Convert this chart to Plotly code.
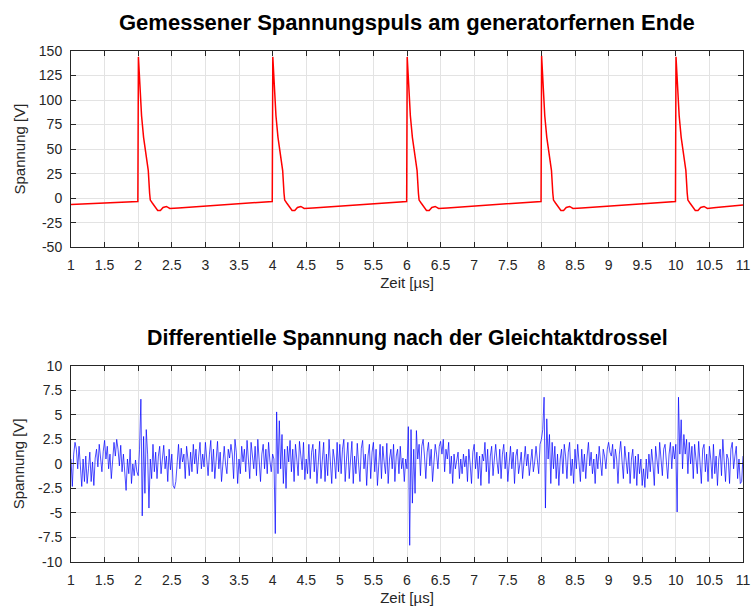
import plotly.graph_objects as go
from plotly.subplots import make_subplots

# ---- Top: measured voltage pulse (red) ----
t_puls = [
    1.00, 1.10, 1.20, 1.30, 1.40, 1.50, 1.60, 1.70, 1.80, 1.90, 1.995,
    2.003, 2.02, 2.05, 2.08, 2.10, 2.13, 2.15, 2.17, 2.18, 2.21, 2.25, 2.29, 2.33, 2.37, 2.42, 2.47,
    2.60, 2.80, 3.00, 3.20, 3.40, 3.60, 3.80, 3.995,
    4.003, 4.02, 4.05, 4.08, 4.10, 4.13, 4.15, 4.17, 4.18, 4.21, 4.25, 4.29, 4.33, 4.37, 4.42, 4.47,
    4.60, 4.80, 5.00, 5.20, 5.40, 5.60, 5.80, 5.995,
    6.003, 6.02, 6.05, 6.08, 6.10, 6.13, 6.15, 6.17, 6.18, 6.21, 6.25, 6.29, 6.33, 6.37, 6.42, 6.47,
    6.60, 6.80, 7.00, 7.20, 7.40, 7.60, 7.80, 7.995,
    8.003, 8.02, 8.05, 8.08, 8.10, 8.13, 8.15, 8.17, 8.18, 8.21, 8.25, 8.29, 8.33, 8.37, 8.42, 8.47,
    8.60, 8.80, 9.00, 9.20, 9.40, 9.60, 9.80, 9.995,
    10.003, 10.02, 10.05, 10.08, 10.10, 10.13, 10.15, 10.17, 10.18, 10.21, 10.25, 10.29, 10.33, 10.37, 10.42, 10.47,
    10.60, 10.80, 11.00,
]
v_puls = [
    -6.5, -6.2, -6.0, -5.6, -5.3, -5.0, -4.8, -4.5, -4.2, -3.8, -3.5,
    144, 118, 84, 62, 52, 42, 28, 5, -2, -5, -9, -12.5, -12.5, -9.5, -8.5, -10.5,
    -10.0, -9.0, -7.8, -6.8, -6.0, -5.0, -4.2, -3.4,
    144, 118, 84, 62, 52, 42, 28, 5, -2, -5, -9, -12.5, -12.5, -9.5, -8.5, -10.5,
    -10.0, -9.0, -7.8, -6.8, -6.0, -5.0, -4.2, -3.4,
    144, 118, 84, 62, 52, 42, 28, 5, -2, -5, -9, -12.5, -12.5, -9.5, -8.5, -10.5,
    -10.0, -9.0, -7.8, -6.8, -6.0, -5.0, -4.2, -3.4,
    145, 118, 84, 62, 52, 42, 28, 5, -2, -5, -9, -12.5, -12.5, -9.5, -8.5, -10.5,
    -10.0, -9.0, -7.8, -6.8, -6.0, -5.0, -4.2, -3.4,
    144, 118, 84, 62, 52, 42, 28, 5, -2, -5, -9, -12.5, -12.5, -9.5, -8.5, -10.5,
    -9.5, -8.0, -7.0,
]

# ---- Bottom: differential voltage (blue), sampled every 0.02 us from 1.00 us ----
t0_diff = 1.00
dt_diff = 0.02
v_diff = [
    0.5, -2.3, 1.0, 2.2, 1.5, -0.5, 1.8, -1.0, -2.3, 0.5, -1.8, 0.8, -2.0, -0.5, 1.2, -1.8, 0.2, -2.2, 0.6, 1.5, -0.3, 2.0, 0.8, -0.8, 1.3,
    2.4, 0.5, 1.8, -0.5, 1.0, -1.5, 0.3, 2.2, 0.8, 2.5, 1.5, -0.2, 1.9, -0.8, 1.0, -1.5, -2.7, 0.5, -1.0, 1.5, -2.0, 0.0, -1.2, 0.4, -0.8,
    -1.2, 1.5, 6.6, -5.3, 2.8, -3.0, 3.5, 1.0, -4.5, 0.5, -1.5, 2.0, -0.8, 1.2, -1.5, 0.8, 1.8, -1.0, 0.5, 1.9, -0.5, 0.8, -1.8, 1.5, -0.6,
    1.0, -2.2, -2.5, -1.8, 0.8, 2.0, -0.5, 1.6, 0.2, 1.0, -1.5, 1.8, 0.5, -1.2, 1.2, -0.8, 2.0, 0.0, 1.5, -1.0, 0.8, 2.2, -0.5, 1.0, -0.3,
    2.2, 0.5, -1.2, 1.0, 2.4, -0.8, 1.5, -1.5, 0.8, 2.3, -0.5, 1.2, -1.8, 0.5, 1.8, 0.0, -1.0, 1.5, 0.6, 2.0, 1.0, -1.5, 2.5, 1.2, -2.0,
    0.5, -1.0, 1.8, 0.2, 1.5, -0.8, 2.4, 0.5, -1.5, 2.2, 1.0, -0.5, 1.8, -1.2, 2.5, 0.8, -1.8, 1.0, 2.0, -0.5, 1.5, -1.0, 2.2, 0.3, -0.8,
    1.0, 0.5, -7.1, 5.3, -1.0, 4.4, -0.5, 3.0, -2.0, 1.5, -2.5, 1.8, 0.2, 2.4, -0.8, 1.5, -1.8, 2.0, 0.5, -1.2, 2.3, 1.0, -0.6, 2.2, -1.6,
    0.5, -1.0, 2.0, -1.5, 1.2, 2.0, -0.8, 1.5, -2.0, 0.8, 2.3, -1.5, 0.5, 2.2, -1.8, 1.0, -1.2, 2.5, 0.2, -2.0, 1.5, 0.5, -1.5, 2.2, -0.8,
    2.0, -1.0, 1.5, 2.5, -1.8, 0.5, 2.2, -1.5, 1.0, 2.3, -2.0, 0.8, -1.0, 2.1, 0.0, -1.8, 1.6, 2.4, -0.5, 1.0, -2.2, 0.8, 2.0, -1.5, 1.2,
    2.2, -0.8, 1.5, -2.2, 0.5, 2.0, -1.5, 1.8, 0.2, -1.0, 2.1, -2.0, 0.5, 1.5, -0.5, 2.0, -1.8, 0.8, 1.5, -1.0, 1.8, -0.5, 0.6, -1.8, 0.5,
    -0.5, 3.8, -8.3, 3.5, -4.0, 1.5, -3.0, 3.4, 0.5, 2.0, -1.2, 1.8, 2.5, 0.8, -1.5, 1.2, 2.2, -0.2, 1.5, -1.8, 0.8, 2.0, 1.0, -0.5, 1.8,
    2.3, 1.0, 2.5, -0.8, 1.5, 0.5, 2.2, -1.0, 0.8, -2.0, 1.0, -0.5, 0.3, 1.2, -1.5, 0.5, -1.0, 1.0, -0.3, 0.8, -1.8, 1.5, 0.0, -2.0, 1.2,
    2.0, -0.5, 1.2, -1.5, 0.8, -2.2, 1.0, 0.3, 2.2, -0.8, 1.5, -2.0, 0.8, 1.8, -1.2, 0.5, 2.0, 0.2, -1.0, 1.5, -1.5, 1.0, 2.0, -0.5, 1.2,
    -1.8, 0.5, 1.8, -0.5, 1.2, -2.0, 0.8, 1.5, -1.0, 0.0, 1.2, -1.5, 0.5, 1.8, -0.2, 1.0, -1.2, 0.6, 1.5, -0.8, 0.2, 1.8, 0.5, -1.0, 2.0,
    2.5, 3.5, 6.8, -4.5, 4.6, 0.5, 3.0, -2.0, 2.2, -0.5, 1.8, -1.5, 1.0, -2.2, 0.5, 1.5, -1.0, 2.0, 0.8, -1.5, 1.2, 2.2, -1.2, 0.5, -2.0,
    1.5, -0.5, 2.0, 0.5, -1.8, 1.5, -0.8, 1.0, -1.5, 0.8, 2.2, -0.2, 1.2, -1.0, 0.5, -2.0, 1.0, -0.5, 1.8, 0.2, -1.2, 1.5, 0.8, -0.5, 1.5,
    2.2, 1.2, 0.8, 2.0, -0.5, 1.5, 0.5, -2.0, 1.0, 2.3, 0.3, -1.5, 1.8, 0.5, -1.0, 1.2, -2.0, 0.5, 1.5, -1.5, 0.8, -2.2, 1.0, -1.0, 0.5,
    -2.2, -0.5, -2.4, 0.5, -1.5, 1.0, -0.8, 1.5, 0.0, -2.2, 1.8, 0.5, -1.0, 2.2, 0.8, -1.2, 1.5, 2.0, 0.2, -1.5, 1.0, 2.2, -0.5, 1.8, 0.5,
    2.0, -4.9, 6.8, 1.0, 4.5, -0.5, 3.0, 1.0, 2.5, -1.0, 2.2, 0.0, 1.8, -1.5, 2.0, 0.5, -1.0, 2.3, 0.2, -2.0, 1.5, 2.0, -0.8, 1.0, -1.8,
    1.8, 0.5, -1.5, 2.0, -1.0, 0.8, -2.2, 0.5, 1.5, -1.2, 2.5, 0.3, -1.8, 1.0, 0.5, -2.0, 1.5, 2.2, -0.5, 0.8, 1.8, -1.5, 0.5, -2.0, -1.8,
    0.8,
]
t_diff = [round(t0_diff + i * dt_diff, 4) for i in range(len(v_diff))]

title_top = "Gemessener Spannungspuls am generatorfernen Ende"
title_bottom = "Differentielle Spannung nach der Gleichtaktdrossel"
x_label = "Zeit [µs]"
y_label = "Spannung [V]"
x_ticks = [1, 1.5, 2, 2.5, 3, 3.5, 4, 4.5, 5, 5.5, 6, 6.5, 7, 7.5, 8, 8.5, 9, 9.5, 10, 10.5, 11]
y_ticks_top = [-50, -25, 0, 25, 50, 75, 100, 125, 150]
y_ticks_bottom = [-10, -7.5, -5, -2.5, 0, 2.5, 5, 7.5, 10]

FONT = "Liberation Sans, Arial, sans-serif"
AX = "#262626"
GRID = "#e3e3e3"

fig = make_subplots(rows=2, cols=1, vertical_spacing=0.0)
fig.add_trace(go.Scatter(x=t_puls, y=v_puls, mode="lines",
                         line=dict(color="rgb(255,0,0)", width=1.5), showlegend=False), row=1, col=1)
fig.add_trace(go.Scatter(x=t_diff, y=v_diff, mode="lines",
                         line=dict(color="rgba(0,0,255,0.7)", width=1), showlegend=False), row=2, col=1)

axis_common = dict(showline=True, linecolor=AX, linewidth=1, mirror="ticks",
                   ticks="inside", ticklen=5, tickcolor=AX, automargin=False,
                   showgrid=True, gridcolor=GRID, gridwidth=1, zeroline=False,
                   tickfont=dict(family=FONT, size=14, color=AX))

fig.update_xaxes(**axis_common, range=[1, 11], tickmode="array", tickvals=x_ticks,
                 ticktext=[f"{v:g}" for v in x_ticks], ticklabelstandoff=5,
                 title=dict(text=x_label, font=dict(family=FONT, size=15, color=AX), standoff=5))
fig.update_yaxes(**axis_common, ticklabelstandoff=5,
                 title=dict(text=y_label, font=dict(family=FONT, size=15, color=AX), standoff=9))
fig.update_yaxes(range=[-50, 150], tickvals=y_ticks_top, ticktext=[f"{v:g}" for v in y_ticks_top],
                 domain=[0.6161, 1.0], row=1, col=1)
fig.update_yaxes(range=[-10, 10], tickvals=y_ticks_bottom, ticktext=[f"{v:g}" for v in y_ticks_bottom],
                 domain=[0.0, 0.3839], row=2, col=1)

fig.update_layout(
    width=753, height=611,
    margin=dict(l=71, r=10, t=51, b=49, autoexpand=False),
    paper_bgcolor="white", plot_bgcolor="white",
    font=dict(family=FONT, color=AX),
    annotations=[
        dict(text=f"<b>{title_top}</b>", xref="paper", yref="paper", x=0.5, y=1.056,
             xanchor="center", yanchor="middle", showarrow=False,
             font=dict(family=FONT, size=22, color="black")),
        dict(text=f"<b>{title_bottom}</b>", xref="paper", yref="paper", x=0.5, y=0.438,
             xanchor="center", yanchor="middle", showarrow=False,
             font=dict(family=FONT, size=21.4, color="black")),
    ],
)

fig.write_html("out.html", config={"displayModeBar": False},
               post_script="document.body.style.margin='0';document.body.style.overflow='hidden';")
